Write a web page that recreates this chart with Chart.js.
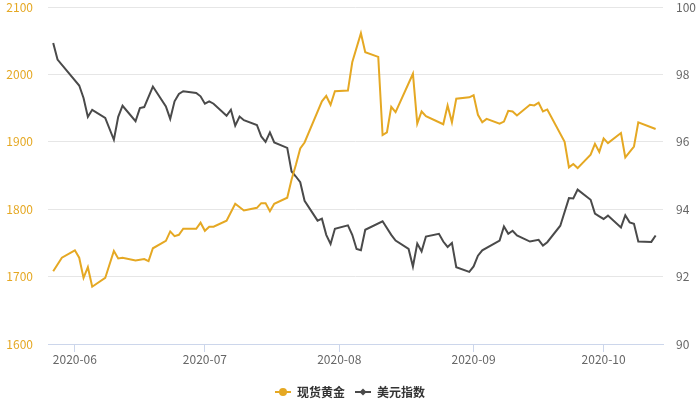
<!DOCTYPE html>
<html>
<head>
<meta charset="utf-8">
<script src="https://cdn.jsdelivr.net/npm/chart.js@4"></script>
<style>
  html, body { margin: 0; padding: 0; background: #fff; }
  #chart { display: block; }
</style>
</head>
<body>
<canvas id="chart" width="700" height="400"></canvas>
<script>
const YEAR = 2020;

// 现货黄金 (left axis)
const goldDates = [
  "05-27","05-29","06-01","06-02","06-03","06-04","06-05","06-08","06-10","06-11",
  "06-12","06-15","06-17","06-18","06-19","06-22","06-23","06-24","06-25","06-26",
  "06-29","06-30","07-01","07-02","07-03","07-06","07-08","07-10","07-13","07-14",
  "07-15","07-16","07-17","07-20","07-21","07-22","07-23","07-24","07-28","07-29",
  "07-30","07-31","08-03","08-04","08-06","08-07","08-10","08-11","08-12","08-13",
  "08-14","08-18","08-19","08-20","08-21","08-25","08-26","08-27","08-28","08-31",
  "09-01","09-02","09-03","09-04","09-07","09-08","09-09","09-10","09-11","09-14",
  "09-15","09-16","09-17","09-18","09-22","09-23","09-24","09-25","09-28","09-29",
  "09-30","10-01","10-02","10-05","10-06","10-08","10-09","10-13"
];
const goldValues = [
  1708,1728,1739,1728,1698,1714,1685,1698,1738,1727,
  1728,1724,1726,1723,1742,1753,1767,1760,1762,1771,
  1771,1780,1768,1774,1774,1783,1808,1798,1802,1809,
  1809,1797,1808,1817,1844,1866,1890,1899,1960,1968,
  1955,1975,1976,2018,2061,2033,2026,1910,1914,1952,
  1944,2001,1927,1945,1938,1926,1954,1929,1964,1966,
  1969,1940,1929,1934,1927,1930,1946,1945,1939,1955,
  1954,1958,1945,1948,1900,1862,1867,1861,1881,1897,
  1885,1905,1898,1913,1877,1893,1929,1919
];

// 美元指数 (right axis)
const usdDates = [
  "05-27","05-28","06-02","06-03","06-04","06-05","06-08","06-10","06-11","06-12",
  "06-15","06-16","06-17","06-19","06-22","06-23","06-24","06-25","06-26","06-29",
  "06-30","07-01","07-02","07-03","07-06","07-07","07-08","07-09","07-10","07-13",
  "07-14","07-15","07-16","07-17","07-20","07-21","07-22","07-23","07-24","07-27",
  "07-28","07-29","07-30","07-31","08-03","08-04","08-05","08-06","08-07","08-11",
  "08-13","08-14","08-17","08-18","08-19","08-20","08-21","08-24","08-25","08-26",
  "08-27","08-28","08-31","09-01","09-02","09-03","09-07","09-08","09-09","09-10",
  "09-11","09-14","09-16","09-17","09-18","09-21","09-23","09-24","09-25","09-28",
  "09-29","09-30","10-01","10-02","10-05","10-06","10-07","10-08","10-09","10-12",
  "10-13"
];
const usdValues = [
  98.93,98.44,97.67,97.30,96.74,96.95,96.71,96.06,96.74,97.07,
  96.61,97.00,97.03,97.64,97.05,96.68,97.20,97.42,97.50,97.45,
  97.35,97.13,97.20,97.13,96.77,96.95,96.48,96.75,96.64,96.50,
  96.16,96.00,96.28,95.98,95.82,95.12,94.97,94.80,94.25,93.66,
  93.72,93.24,92.97,93.42,93.52,93.24,92.82,92.78,93.39,93.64,
  93.24,93.07,92.82,92.30,92.98,92.75,93.19,93.27,93.04,92.88,
  93.00,92.28,92.14,92.30,92.62,92.78,93.07,93.49,93.27,93.36,
  93.22,93.04,93.09,92.92,93.02,93.51,94.33,94.32,94.58,94.28,
  93.87,93.79,93.71,93.81,93.46,93.82,93.61,93.57,93.04,93.03,
  93.22
];

const monthLabels = ["2020-06","2020-07","2020-08","2020-09","2020-10"];

const GOLD = "#e5a823";
const DARK = "#4a4a4a";
const FONT = "'Noto Sans CJK SC', 'Noto Sans', sans-serif";

// day number from "MM-DD"
function dayOf(md) {
  const [m, d] = md.split("-").map(Number);
  return Date.UTC(YEAR, m - 1, d) / 864e5;
}
const monthTicks = monthLabels.map((s) => dayOf(s.slice(5) + "-01"));

const toPoints = (dates, vals) => dates.map((d, i) => ({ x: dayOf(d), y: vals[i] }));

// legend icons: line with a marker
function legendIcon(color, shape) {
  const c = document.createElement("canvas");
  c.width = 16; c.height = 10;
  const g = c.getContext("2d");
  g.strokeStyle = color; g.fillStyle = color; g.lineWidth = 2;
  g.beginPath(); g.moveTo(0, 5); g.lineTo(16, 5); g.stroke();
  g.beginPath();
  if (shape === "circle") {
    g.arc(8, 5, 4, 0, Math.PI * 2);
  } else {
    g.moveTo(8, 1.5); g.lineTo(11.5, 5); g.lineTo(8, 8.5); g.lineTo(4.5, 5); g.closePath();
  }
  g.fill();
  return c;
}

// fixed axis width, no extra top/bottom padding from the tick labels
const fixWidth = (w) => (scale) => {
  scale.width = w;
  scale.paddingTop = 0;
  scale.paddingBottom = 0;
};

new Chart(document.getElementById("chart"), {
  type: "line",
  data: {
    datasets: [
      {
        label: "现货黄金",
        data: toPoints(goldDates, goldValues),
        yAxisID: "y",
        borderColor: GOLD,
        backgroundColor: GOLD,
        borderWidth: 2,
        pointRadius: 0,
        pointStyle: legendIcon(GOLD, "circle"),
        tension: 0,
      },
      {
        label: "美元指数",
        data: toPoints(usdDates, usdValues),
        yAxisID: "y1",
        borderColor: DARK,
        backgroundColor: DARK,
        borderWidth: 2,
        pointRadius: 0,
        pointStyle: legendIcon(DARK, "diamond"),
        tension: 0,
      },
    ],
  },
  options: {
    responsive: false,
    animation: false,
    layout: { padding: { top: 7, left: 0, right: 0, bottom: -8 } },
    plugins: {
      tooltip: { enabled: false },
      legend: {
        position: "bottom",
        labels: {
          usePointStyle: true,
          pointStyleWidth: 16,
          color: "#333",
          padding: 10,
          font: { family: FONT, size: 12, weight: "bold" },
        },
      },
    },
    scales: {
      x: {
        type: "linear",
        min: dayOf("05-26") - 0.2,
        max: dayOf("10-14") + 0.7,
        afterBuildTicks: (scale) => { scale.ticks = monthTicks.map((v) => ({ value: v })); },
        afterFit: (scale) => { scale.height = 32; },
        border: { color: "#ccd6eb" },
        grid: { drawOnChartArea: false, drawTicks: true, tickLength: 8, color: "#ccd6eb" },
        ticks: {
          color: "#666",
          padding: 0,
          maxRotation: 0,
          font: { family: FONT, size: 12 },
          callback: (v) => monthLabels[monthTicks.indexOf(v)] || "",
        },
      },
      y: {
        position: "left",
        min: 1600,
        max: 2100,
        afterFit: fixWidth(48),
        border: { display: false },
        grid: { color: "#e6e6e6", drawTicks: false },
        ticks: { stepSize: 100, color: GOLD, padding: 15, font: { family: FONT, size: 12 }, callback: (v) => String(v) },
      },
      y1: {
        position: "right",
        min: 90,
        max: 100,
        afterFit: fixWidth(37),
        border: { display: false },
        grid: { drawOnChartArea: false, drawTicks: false },
        ticks: { stepSize: 2, color: "#666", padding: 13, font: { family: FONT, size: 12 }, callback: (v) => String(v) },
      },
    },
  },
});
</script>
</body>
</html>
